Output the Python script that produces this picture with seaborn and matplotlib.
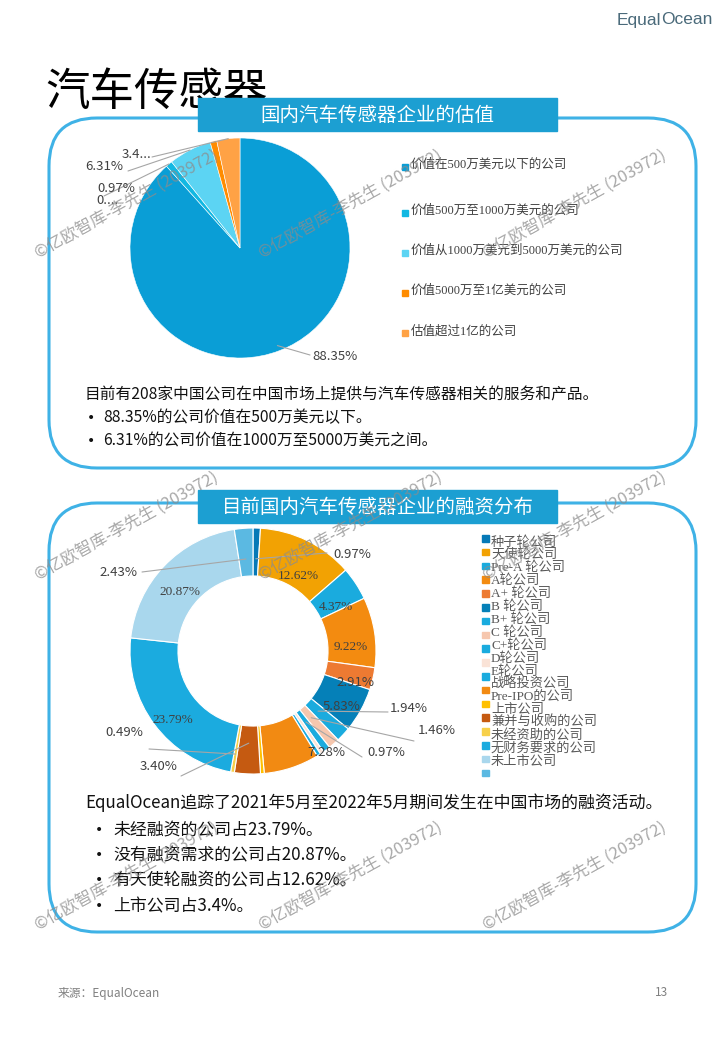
import numpy as np
import matplotlib
matplotlib.use("Agg")
import matplotlib.pyplot as plt
import seaborn as sns
from matplotlib.patches import FancyBboxPatch, Rectangle

sns.set_theme(style="white")
plt.rcParams['font.family'] = ['Noto Sans CJK SC', 'DejaVu Sans']

# 估值数据
val_labels = ['价值在500万美元以下的公司', '价值500万至1000万美元的公司',
              '价值从1000万美元到5000万美元的公司', '价值5000万至1亿美元的公司',
              '估值超过1亿的公司']
val_values = [88.35, 0.97, 6.31, 0.97, 3.40]
val_texts = ['88.35%', '0....', '6.31%', '0.97%', '3.4...']
val_colors = ['#0A9ED6', '#12B8E2', '#5CD4F3', '#FF8C00', '#FFA245']

# 融资分布数据
fin_labels = ['种子轮公司', '天使轮公司', 'Pre-A 轮公司', 'A轮公司', 'A+ 轮公司', 'B 轮公司',
              'B+ 轮公司', 'C 轮公司', 'C+轮公司', 'D轮公司', 'E轮公司', '战略投资公司',
              'Pre-IPO的公司', '上市公司', '兼并与收购的公司', '未经资助的公司',
              '无财务要求的公司', '未上市公司']
fin_values = [0.97, 12.62, 4.37, 9.22, 2.91, 5.83, 1.94, 1.46, 0.97, 0.49, 0.49,
              7.28, 0.49, 3.40, 0.49, 23.79, 20.87, 2.43]
fin_colors = ['#0679B7', '#F2A203', '#1AABDE', '#F38B10', '#ED7A32', '#0580B8',
              '#1AABDE', '#F6C7AE', '#1AABDE', '#FAE3D7', '#1AABDE', '#F28A12',
              '#FFC000', '#C55A11', '#F7D04A', '#1BABDF', '#A9D7ED', '#5BB9E2']

fig = plt.figure(figsize=(7.2, 10.4), dpi=100)
W, H = 720, 1040

bg = fig.add_axes([0, 0, 1, 1])
bg.set_xlim(0, W)
bg.set_ylim(H, 0)
bg.axis('off')

# 标题和logo
bg.text(45, 92, '汽车传感器', fontsize=32, color='black', va='center', ha='left', zorder=1)
bg.text(617, 20, 'Equal', fontsize=12.5, color='#4a6a7a', va='center', ha='left',
        family=['Liberation Sans Narrow', 'Liberation Sans', 'DejaVu Sans'])
bg.text(713, 20, 'Ocean', fontsize=12.5, color='#4a6a7a', va='center', ha='right',
        family=['Liberation Sans Narrow', 'Liberation Sans', 'DejaVu Sans'])

# 圆角框
for y0, y1 in [(118, 468), (503, 932)]:
    bg.add_patch(FancyBboxPatch((49, y0), 647, y1 - y0,
                                boxstyle='round,pad=0,rounding_size=48',
                                fill=False, ec='#3FB2E6', lw=2.2, zorder=2))

# 标题条
for y0, txt in [(98, '国内汽车传感器企业的估值'), (490, '目前国内汽车传感器企业的融资分布')]:
    bg.add_patch(Rectangle((198, y0), 359, 33, color='#1C9FD2', zorder=3))
    bg.text(377.5, y0 + 17, txt, color='white', fontsize=14, ha='center', va='center', zorder=4)

# 文字说明
bullet_font = ['DejaVu Sans']
bg.text(85, 395, '目前有208家中国公司在中国市场上提供与汽车传感器相关的服务和产品。',
        fontsize=11.3, color='#111111', va='center')
for y, t in [(418, '88.35%的公司价值在500万美元以下。'), (441, '6.31%的公司价值在1000万至5000万美元之间。')]:
    bg.text(87, y, '•', fontsize=10, color='#111111', va='center', family=bullet_font)
    bg.text(103, y, t, fontsize=11.3, color='#111111', va='center')

bg.text(85, 803, 'EqualOcean追踪了2021年5月至2022年5月期间发生在中国市场的融资活动。',
        fontsize=12.2, color='#111111', va='center')
for y, t in [(830, '未经融资的公司占23.79%。'), (855, '没有融资需求的公司占20.87%。'),
             (880, '有天使轮融资的公司占12.62%。'), (906, '上市公司占3.4%。')]:
    bg.text(95, y, '•', fontsize=10, color='#111111', va='center', family=bullet_font)
    bg.text(113, y, t, fontsize=12.2, color='#111111', va='center')

bg.text(58, 993, '来源：EqualOcean', fontsize=8.5, color='#808080', va='center')
bg.text(655, 993, '13', fontsize=8.5, color='#808080', va='center')

# 估值饼图
cx1, cy1, r1 = 240, 248, 110
ax1 = fig.add_axes([(cx1 - r1) / W, 1 - (cy1 + r1) / H, 2 * r1 / W, 2 * r1 / H])
wedges1, _ = ax1.pie(val_values, colors=val_colors, startangle=90, counterclock=False,
                     wedgeprops=dict(linewidth=0.4, edgecolor='white'))
ax1.set_xlim(-1, 1)
ax1.set_ylim(-1, 1)

# 融资环形图
cx2, cy2, r2 = 253, 651, 123
ax2 = fig.add_axes([(cx2 - r2) / W, 1 - (cy2 + r2) / H, 2 * r2 / W, 2 * r2 / H])
wedges2, _ = ax2.pie(fin_values, colors=fin_colors, startangle=90, counterclock=False,
                     wedgeprops=dict(width=0.39, linewidth=0.8, edgecolor='white'))
ax2.set_xlim(-1, 1)
ax2.set_ylim(-1, 1)

# 上层：标签、引线、图例、水印
top = fig.add_axes([0, 0, 1, 1], zorder=10)
top.set_xlim(0, W)
top.set_ylim(H, 0)
top.axis('off')
top.patch.set_alpha(0)


def anchor(w, cx, cy, r, f):
    a = np.deg2rad((w.theta1 + w.theta2) / 2)
    return cx + f * r * np.cos(a), cy - f * r * np.sin(a)


lab_font = ['Noto Sans CJK SC', 'DejaVu Sans']
line_c = '#A6A6A6'

# 饼图标签
pie_lab_pos = [(312, 357, 'left'), (96, 200, 'left'), (85, 167, 'left'),
               (97, 188, 'left'), (122, 154, 'left')]
pie_line_start = [(310, 355), (104, 196), (128, 171), None, (152, 157)]
pie_line_f = [0.95, 1.0, 1.0, None, 1.0]
for i, w in enumerate(wedges1):
    x, y, ha = pie_lab_pos[i]
    top.text(x, y, val_texts[i], fontsize=9.5, color='#404040', ha=ha, va='center', family=lab_font)
    if pie_line_start[i] is not None:
        ax_, ay_ = anchor(w, cx1, cy1, r1, pie_line_f[i])
        sx, sy = pie_line_start[i]
        top.plot([sx, ax_], [sy, ay_], color=line_c, lw=0.8)

# 估值图例
val_leg_y = [165, 211, 251, 291, 331]
for i, lab in enumerate(val_labels):
    y = val_leg_y[i]
    top.add_patch(Rectangle((402, y - 1), 6, 6, color=val_colors[i]))
    top.text(411, y, lab, fontsize=9, color='#404040', va='center',
             family=['Liberation Serif', 'Noto Sans CJK SC'])

# 环形图内部标签
inner = {1: (298, 576, 'serif'), 2: (336, 607, 'serif'), 3: (351, 647, 'serif'),
         4: (355, 683, 'sans'), 5: (342, 706, 'sans'), 11: (326, 753, 'sans'),
         15: (173, 720, 'serif'), 16: (180, 592, 'serif')}
for i, (x, y, fam) in inner.items():
    famlist = ['Liberation Serif', 'DejaVu Serif'] if fam == 'serif' else lab_font
    top.text(x, y, f'{fin_values[i]:.2f}%', fontsize=9.5, color='#404040',
             ha='center', va='center', family=famlist)

# 环形图外部标签
outer = {0: (333, 554, 'left', (327, 553), 0.75),
         17: (137, 573, 'right', (142, 572), 0.75),
         6: (390, 708, 'left', (388, 712), 0.72),
         7: (418, 731, 'left', (414, 741), 0.72),
         8: (367, 752, 'left', (362, 757), 0.72),
         14: (143, 732, 'right', (149, 749), 0.85),
         13: (140, 766, 'left', (181, 776), 0.75)}
for i, (x, y, ha, (sx, sy), f) in outer.items():
    top.text(x, y, f'{fin_values[i]:.2f}%', fontsize=9.5, color='#404040',
             ha=ha, va='center', family=lab_font)
    ax_, ay_ = anchor(wedges2[i], cx2, cy2, r2, f)
    top.plot([sx, ax_], [sy, ay_], color=line_c, lw=0.8)

# 融资图例
for i, lab in enumerate(fin_labels):
    sy = 535 + i * 13.8
    top.add_patch(Rectangle((482, sy), 6.5, 6.5, color=fin_colors[i]))
    top.text(491, 542 + i * 12.9, lab, fontsize=9.5, color='#595959', va='center',
             family=['Liberation Serif', 'Noto Sans CJK SC'])

# 水印
wm = '©亿欧智库-李先生 (203972)'
for x0 in [38, 262, 486]:
    for y0 in [258, 580, 930]:
        top.text(x0, y0, wm, fontsize=12, color='#8c8c8c', alpha=0.75, rotation=29,
                 rotation_mode='anchor', ha='left', va='baseline', family=lab_font)

fig.savefig('out.png', dpi=100)
